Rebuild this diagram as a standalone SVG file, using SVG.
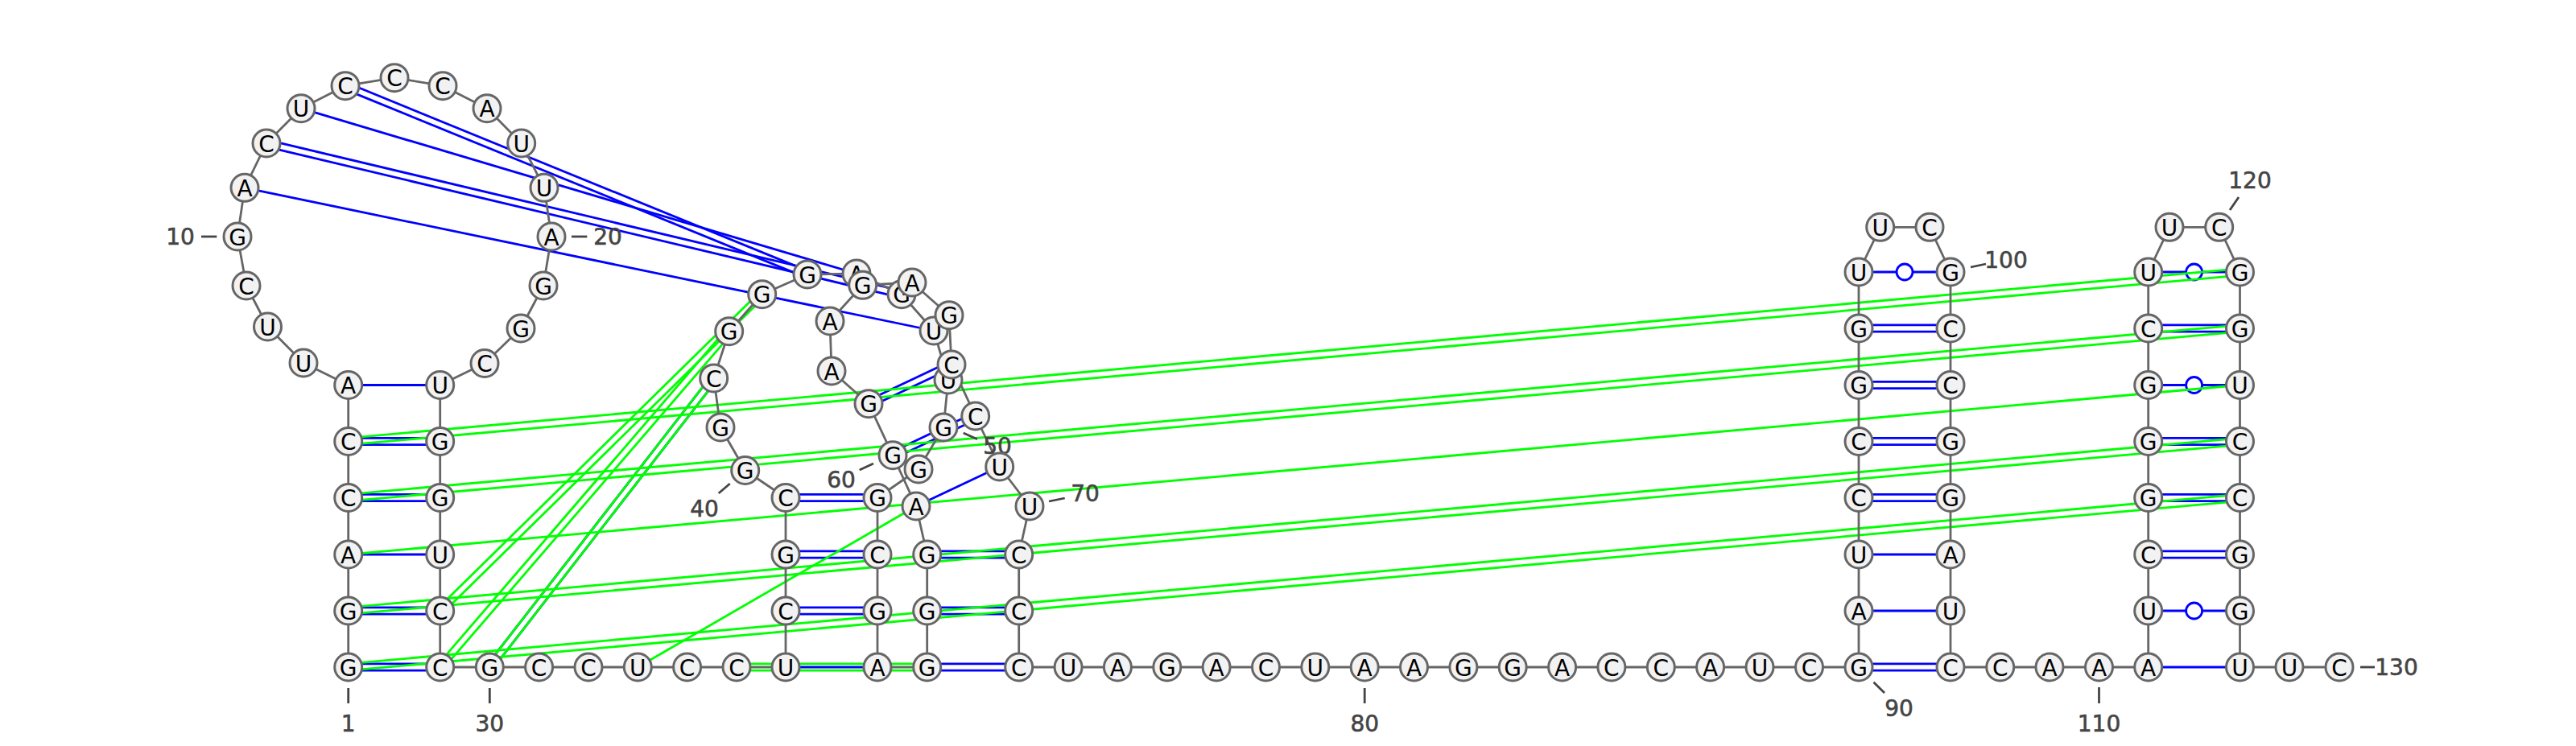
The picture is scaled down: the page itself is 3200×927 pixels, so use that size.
<svg xmlns="http://www.w3.org/2000/svg" width="3200" height="927" viewBox="0 0 3200 927">
<style>
text{font-family:"DejaVu Sans",sans-serif;text-anchor:middle}
.n circle{fill:#f2f2f2;stroke:#666;stroke-width:3}
.n text{font-size:28px;fill:#000}
.l line{stroke:#444;stroke-width:2.8}
.l text{font-size:28px;fill:#444;stroke:#444;stroke-width:.6}
.k line{stroke:#666;stroke-width:2.8}
.b line{stroke:#00f;stroke-width:2.8}
.b circle{fill:#fff;stroke:#00f;stroke-width:2.8}
.g line{stroke:#0f0;stroke-width:2.8}
</style>
<rect width="3200" height="927" fill="#fff"/>
<g id="connectors">
<g class="b">
<line x1="432.7" y1="824.8" x2="546.7" y2="824.8"/><line x1="432.7" y1="833.2" x2="546.7" y2="833.2"/>
<line x1="432.7" y1="754.8" x2="546.7" y2="754.8"/><line x1="432.7" y1="763.2" x2="546.7" y2="763.2"/>
<line x1="432.7" y1="689" x2="546.7" y2="689"/>
<line x1="432.7" y1="614.3" x2="546.7" y2="614.3"/><line x1="432.7" y1="622.7" x2="546.7" y2="622.7"/>
<line x1="432.7" y1="544.3" x2="546.7" y2="544.3"/><line x1="432.7" y1="552.7" x2="546.7" y2="552.7"/>
<line x1="432.7" y1="478.5" x2="546.7" y2="478.5"/>
<line x1="304" y1="233.3" x2="1160" y2="411"/>
<line x1="330" y1="182.1" x2="1119" y2="369.8"/><line x1="332" y1="173.9" x2="1121" y2="361.6"/>
<line x1="374" y1="134.7" x2="1064" y2="340"/>
<line x1="427.4" y1="110.6" x2="1001.4" y2="344.9"/><line x1="430.6" y1="102.8" x2="1004.6" y2="337.1"/>
<line x1="611.6" y1="831.6" x2="890" y2="472.6"/><line x1="605" y1="826.4" x2="883.4" y2="467.4"/>
<line x1="976" y1="829" x2="1090" y2="829"/>
<line x1="976" y1="754.8" x2="1090" y2="754.8"/><line x1="976" y1="763.2" x2="1090" y2="763.2"/>
<line x1="976" y1="684.8" x2="1090" y2="684.8"/><line x1="976" y1="693.2" x2="1090" y2="693.2"/>
<line x1="976" y1="614.3" x2="1090" y2="614.3"/><line x1="976" y1="622.7" x2="1090" y2="622.7"/>
<line x1="1151.7" y1="824.8" x2="1265.7" y2="824.8"/><line x1="1151.7" y1="833.2" x2="1265.7" y2="833.2"/>
<line x1="1151.7" y1="754.8" x2="1265.7" y2="754.8"/><line x1="1151.7" y1="763.2" x2="1265.7" y2="763.2"/>
<line x1="1151.7" y1="684.8" x2="1265.7" y2="684.8"/><line x1="1151.7" y1="693.2" x2="1265.7" y2="693.2"/>
<line x1="1138" y1="629" x2="1241.7" y2="580"/>
<line x1="1110.8" y1="569.5" x2="1213.5" y2="520.8"/><line x1="1107.2" y1="561.9" x2="1209.9" y2="513.2"/>
<line x1="1080.8" y1="505.5" x2="1183.8" y2="456.8"/><line x1="1077.2" y1="497.9" x2="1180.2" y2="449.2"/>
<line x1="2309" y1="824.8" x2="2423" y2="824.8"/><line x1="2309" y1="833.2" x2="2423" y2="833.2"/>
<line x1="2309" y1="759" x2="2423" y2="759"/>
<line x1="2309" y1="689" x2="2423" y2="689"/>
<line x1="2309" y1="614.3" x2="2423" y2="614.3"/><line x1="2309" y1="622.7" x2="2423" y2="622.7"/>
<line x1="2309" y1="544.3" x2="2423" y2="544.3"/><line x1="2309" y1="552.7" x2="2423" y2="552.7"/>
<line x1="2309" y1="474.3" x2="2423" y2="474.3"/><line x1="2309" y1="482.7" x2="2423" y2="482.7"/>
<line x1="2309" y1="403.8" x2="2423" y2="403.8"/><line x1="2309" y1="412.2" x2="2423" y2="412.2"/>
<line x1="2309" y1="338" x2="2423" y2="338"/><circle cx="2366" cy="338" r="10"/>
<line x1="2668.7" y1="829" x2="2782.5" y2="829"/>
<line x1="2668.7" y1="759" x2="2782.5" y2="759"/><circle cx="2725.6" cy="759" r="10"/>
<line x1="2668.7" y1="684.8" x2="2782.5" y2="684.8"/><line x1="2668.7" y1="693.2" x2="2782.5" y2="693.2"/>
<line x1="2668.7" y1="614.3" x2="2782.5" y2="614.3"/><line x1="2668.7" y1="622.7" x2="2782.5" y2="622.7"/>
<line x1="2668.7" y1="544.3" x2="2782.5" y2="544.3"/><line x1="2668.7" y1="552.7" x2="2782.5" y2="552.7"/>
<line x1="2668.7" y1="478.5" x2="2782.5" y2="478.5"/><circle cx="2725.6" cy="478.5" r="10"/>
<line x1="2668.7" y1="403.8" x2="2782.5" y2="403.8"/><line x1="2668.7" y1="412.2" x2="2782.5" y2="412.2"/>
<line x1="2668.7" y1="338" x2="2782.5" y2="338"/><circle cx="2725.6" cy="338" r="10"/>
</g>
<g class="g">
<line x1="433.1" y1="833.2" x2="2782.9" y2="622.7"/><line x1="432.3" y1="824.8" x2="2782.1" y2="614.3"/>
<line x1="433.1" y1="763.2" x2="2782.9" y2="552.7"/><line x1="432.3" y1="754.8" x2="2782.1" y2="544.3"/>
<line x1="432.7" y1="689" x2="2782.5" y2="478.5"/>
<line x1="433.1" y1="622.7" x2="2782.9" y2="412.2"/><line x1="432.3" y1="614.3" x2="2782.1" y2="403.8"/>
<line x1="433.1" y1="552.7" x2="2782.9" y2="342.2"/><line x1="432.3" y1="544.3" x2="2782.1" y2="333.8"/>
<line x1="549.6" y1="762" x2="949.6" y2="368.7"/><line x1="543.8" y1="756" x2="943.8" y2="362.7"/>
<line x1="549.9" y1="831.7" x2="908.9" y2="414.4"/><line x1="543.5" y1="826.3" x2="902.5" y2="409"/>
<line x1="611.6" y1="831.6" x2="890" y2="472.6"/><line x1="605" y1="826.4" x2="883.4" y2="467.4"/>
<line x1="792.3" y1="829" x2="1138" y2="629"/>
<line x1="915" y1="824.8" x2="1151.7" y2="824.8"/><line x1="915" y1="833.2" x2="1151.7" y2="833.2"/>
</g>
<g class="k">
<line x1="432.7" y1="829" x2="432.7" y2="759"/><line x1="432.7" y1="759" x2="432.7" y2="689"/><line x1="432.7" y1="689" x2="432.7" y2="618.5"/><line x1="432.7" y1="618.5" x2="432.7" y2="548.5"/><line x1="432.7" y1="548.5" x2="432.7" y2="478.5"/>
<line x1="432.7" y1="478.5" x2="377" y2="451"/><line x1="377" y1="451" x2="332.5" y2="406"/><line x1="332.5" y1="406" x2="306" y2="355"/><line x1="306" y1="355" x2="295" y2="294"/><line x1="295" y1="294" x2="304" y2="233.3"/><line x1="304" y1="233.3" x2="331" y2="178"/><line x1="331" y1="178" x2="374" y2="134.7"/><line x1="374" y1="134.7" x2="429" y2="106.7"/><line x1="429" y1="106.7" x2="490" y2="96.7"/><line x1="490" y1="96.7" x2="550" y2="106.7"/><line x1="550" y1="106.7" x2="605" y2="134.7"/><line x1="605" y1="134.7" x2="647.7" y2="178"/><line x1="647.7" y1="178" x2="676" y2="233.3"/><line x1="676" y1="233.3" x2="685" y2="294"/><line x1="685" y1="294" x2="675" y2="355"/><line x1="675" y1="355" x2="647" y2="408"/><line x1="647" y1="408" x2="602" y2="451.5"/><line x1="602" y1="451.5" x2="546.7" y2="478.5"/>
<line x1="546.7" y1="478.5" x2="546.7" y2="548.5"/><line x1="546.7" y1="548.5" x2="546.7" y2="618.5"/><line x1="546.7" y1="618.5" x2="546.7" y2="689"/><line x1="546.7" y1="689" x2="546.7" y2="759"/><line x1="546.7" y1="759" x2="546.7" y2="829"/>
<line x1="546.7" y1="829" x2="608.3" y2="829"/><line x1="608.3" y1="829" x2="669.6" y2="829"/><line x1="669.6" y1="829" x2="731" y2="829"/><line x1="731" y1="829" x2="792.3" y2="829"/><line x1="792.3" y1="829" x2="853.6" y2="829"/><line x1="853.6" y1="829" x2="915" y2="829"/><line x1="915" y1="829" x2="976" y2="829"/>
<line x1="976" y1="829" x2="976" y2="759"/><line x1="976" y1="759" x2="976" y2="689"/><line x1="976" y1="689" x2="976" y2="618.5"/><line x1="976" y1="618.5" x2="925.7" y2="584.5"/><line x1="925.7" y1="584.5" x2="895" y2="531"/><line x1="895" y1="531" x2="886.7" y2="470"/><line x1="886.7" y1="470" x2="905.7" y2="411.7"/><line x1="905.7" y1="411.7" x2="946.7" y2="365.7"/><line x1="946.7" y1="365.7" x2="1003" y2="341"/><line x1="1003" y1="341" x2="1064" y2="340"/><line x1="1064" y1="340" x2="1120" y2="365.7"/><line x1="1120" y1="365.7" x2="1160" y2="411"/><line x1="1160" y1="411" x2="1178" y2="472"/><line x1="1178" y1="472" x2="1172" y2="531"/><line x1="1172" y1="531" x2="1141" y2="583"/><line x1="1141" y1="583" x2="1090" y2="618.5"/>
<line x1="1090" y1="618.5" x2="1090" y2="689"/><line x1="1090" y1="689" x2="1090" y2="759"/><line x1="1090" y1="759" x2="1090" y2="829"/><line x1="1090" y1="829" x2="1151.7" y2="829"/>
<line x1="1151.7" y1="829" x2="1151.7" y2="759"/><line x1="1151.7" y1="759" x2="1151.7" y2="689"/><line x1="1151.7" y1="689" x2="1138" y2="629"/><line x1="1138" y1="629" x2="1109" y2="565.7"/><line x1="1109" y1="565.7" x2="1079" y2="501.7"/><line x1="1079" y1="501.7" x2="1033" y2="461"/><line x1="1033" y1="461" x2="1031" y2="399"/><line x1="1031" y1="399" x2="1071.7" y2="354.3"/><line x1="1071.7" y1="354.3" x2="1133" y2="351"/><line x1="1133" y1="351" x2="1179" y2="391.7"/><line x1="1179" y1="391.7" x2="1182" y2="453"/><line x1="1182" y1="453" x2="1211.7" y2="517"/><line x1="1211.7" y1="517" x2="1241.7" y2="580"/><line x1="1241.7" y1="580" x2="1279" y2="629"/><line x1="1279" y1="629" x2="1265.7" y2="689"/>
<line x1="1265.7" y1="689" x2="1265.7" y2="759"/><line x1="1265.7" y1="759" x2="1265.7" y2="829"/>
<line x1="1265.7" y1="829" x2="2309" y2="829"/>
<line x1="2309" y1="829" x2="2309" y2="338"/><line x1="2309" y1="338" x2="2335.7" y2="282.3"/><line x1="2335.7" y1="282.3" x2="2397" y2="282.3"/><line x1="2397" y1="282.3" x2="2423" y2="338"/><line x1="2423" y1="338" x2="2423" y2="829"/>
<line x1="2423" y1="829" x2="2668.7" y2="829"/>
<line x1="2668.7" y1="829" x2="2668.7" y2="338"/><line x1="2668.7" y1="338" x2="2695" y2="282.3"/><line x1="2695" y1="282.3" x2="2756.7" y2="282.3"/><line x1="2756.7" y1="282.3" x2="2782.5" y2="338"/><line x1="2782.5" y1="338" x2="2782.5" y2="829"/>
<line x1="2782.5" y1="829" x2="2906" y2="829"/>
</g>
</g>
<g id="labels" class="l">
<line x1="432.7" y1="855" x2="432.7" y2="874"/><text x="432.7" y="909">1</text>
<line x1="250" y1="294" x2="269.3" y2="294"/><text x="224" y="304">10</text>
<line x1="710" y1="294" x2="729.3" y2="294"/><text x="755" y="304">20</text>
<line x1="608.3" y1="855" x2="608.3" y2="874"/><text x="608.3" y="909">30</text>
<line x1="892.7" y1="613" x2="906.7" y2="601"/><text x="875" y="642">40</text>
<line x1="1196.7" y1="538" x2="1214" y2="545.7"/><text x="1239" y="564">50</text>
<line x1="1067.7" y1="584" x2="1085" y2="576"/><text x="1045" y="606">60</text>
<line x1="1303" y1="623" x2="1322.7" y2="619"/><text x="1348" y="623">70</text>
<line x1="1695.2" y1="855" x2="1695.2" y2="874"/><text x="1695.2" y="909">80</text>
<line x1="2327.5" y1="847.7" x2="2341" y2="861"/><text x="2359" y="890">90</text>
<line x1="2448" y1="332" x2="2467" y2="328"/><text x="2492" y="333">100</text>
<line x1="2607.5" y1="854" x2="2607.5" y2="874"/><text x="2607.5" y="909">110</text>
<line x1="2770" y1="261" x2="2781" y2="245"/><text x="2795" y="234">120</text>
<line x1="2932" y1="829" x2="2950" y2="829"/><text x="2977" y="839">130</text>
</g>
<g id="nodes" class="nodes">
<g id="n1" class="n" transform="translate(432.7,829)"><circle r="17"/><text y="10.5">G</text></g>
<g id="n2" class="n" transform="translate(432.7,759)"><circle r="17"/><text y="10.5">G</text></g>
<g id="n3" class="n" transform="translate(432.7,689)"><circle r="17"/><text y="10.5">A</text></g>
<g id="n4" class="n" transform="translate(432.7,618.5)"><circle r="17"/><text y="10.5">C</text></g>
<g id="n5" class="n" transform="translate(432.7,548.5)"><circle r="17"/><text y="10.5">C</text></g>
<g id="n6" class="n" transform="translate(432.7,478.5)"><circle r="17"/><text y="10.5">A</text></g>
<g id="n7" class="n" transform="translate(377,451)"><circle r="17"/><text y="10.5">U</text></g>
<g id="n8" class="n" transform="translate(332.5,406)"><circle r="17"/><text y="10.5">U</text></g>
<g id="n9" class="n" transform="translate(306,355)"><circle r="17"/><text y="10.5">C</text></g>
<g id="n10" class="n" transform="translate(295,294)"><circle r="17"/><text y="10.5">G</text></g>
<g id="n11" class="n" transform="translate(304,233.3)"><circle r="17"/><text y="10.5">A</text></g>
<g id="n12" class="n" transform="translate(331,178)"><circle r="17"/><text y="10.5">C</text></g>
<g id="n13" class="n" transform="translate(374,134.7)"><circle r="17"/><text y="10.5">U</text></g>
<g id="n14" class="n" transform="translate(429,106.7)"><circle r="17"/><text y="10.5">C</text></g>
<g id="n15" class="n" transform="translate(490,96.7)"><circle r="17"/><text y="10.5">C</text></g>
<g id="n16" class="n" transform="translate(550,106.7)"><circle r="17"/><text y="10.5">C</text></g>
<g id="n17" class="n" transform="translate(605,134.7)"><circle r="17"/><text y="10.5">A</text></g>
<g id="n18" class="n" transform="translate(647.7,178)"><circle r="17"/><text y="10.5">U</text></g>
<g id="n19" class="n" transform="translate(676,233.3)"><circle r="17"/><text y="10.5">U</text></g>
<g id="n20" class="n" transform="translate(685,294)"><circle r="17"/><text y="10.5">A</text></g>
<g id="n21" class="n" transform="translate(675,355)"><circle r="17"/><text y="10.5">G</text></g>
<g id="n22" class="n" transform="translate(647,408)"><circle r="17"/><text y="10.5">G</text></g>
<g id="n23" class="n" transform="translate(602,451.5)"><circle r="17"/><text y="10.5">C</text></g>
<g id="n24" class="n" transform="translate(546.7,478.5)"><circle r="17"/><text y="10.5">U</text></g>
<g id="n25" class="n" transform="translate(546.7,548.5)"><circle r="17"/><text y="10.5">G</text></g>
<g id="n26" class="n" transform="translate(546.7,618.5)"><circle r="17"/><text y="10.5">G</text></g>
<g id="n27" class="n" transform="translate(546.7,689)"><circle r="17"/><text y="10.5">U</text></g>
<g id="n28" class="n" transform="translate(546.7,759)"><circle r="17"/><text y="10.5">C</text></g>
<g id="n29" class="n" transform="translate(546.7,829)"><circle r="17"/><text y="10.5">C</text></g>
<g id="n30" class="n" transform="translate(608.3,829)"><circle r="17"/><text y="10.5">G</text></g>
<g id="n31" class="n" transform="translate(669.6,829)"><circle r="17"/><text y="10.5">C</text></g>
<g id="n32" class="n" transform="translate(731,829)"><circle r="17"/><text y="10.5">C</text></g>
<g id="n33" class="n" transform="translate(792.3,829)"><circle r="17"/><text y="10.5">U</text></g>
<g id="n34" class="n" transform="translate(853.6,829)"><circle r="17"/><text y="10.5">C</text></g>
<g id="n35" class="n" transform="translate(915,829)"><circle r="17"/><text y="10.5">C</text></g>
<g id="n36" class="n" transform="translate(976,829)"><circle r="17"/><text y="10.5">U</text></g>
<g id="n37" class="n" transform="translate(976,759)"><circle r="17"/><text y="10.5">C</text></g>
<g id="n38" class="n" transform="translate(976,689)"><circle r="17"/><text y="10.5">G</text></g>
<g id="n39" class="n" transform="translate(976,618.5)"><circle r="17"/><text y="10.5">C</text></g>
<g id="n40" class="n" transform="translate(925.7,584.5)"><circle r="17"/><text y="10.5">G</text></g>
<g id="n41" class="n" transform="translate(895,531)"><circle r="17"/><text y="10.5">G</text></g>
<g id="n42" class="n" transform="translate(886.7,470)"><circle r="17"/><text y="10.5">C</text></g>
<g id="n43" class="n" transform="translate(905.7,411.7)"><circle r="17"/><text y="10.5">G</text></g>
<g id="n44" class="n" transform="translate(946.7,365.7)"><circle r="17"/><text y="10.5">G</text></g>
<g id="n45" class="n" transform="translate(1003,341)"><circle r="17"/><text y="10.5">G</text></g>
<g id="n46" class="n" transform="translate(1064,340)"><circle r="17"/><text y="10.5">A</text></g>
<g id="n47" class="n" transform="translate(1120,365.7)"><circle r="17"/><text y="10.5">G</text></g>
<g id="n48" class="n" transform="translate(1160,411)"><circle r="17"/><text y="10.5">U</text></g>
<g id="n49" class="n" transform="translate(1178,472)"><circle r="17"/><text y="10.5">U</text></g>
<g id="n50" class="n" transform="translate(1172,531)"><circle r="17"/><text y="10.5">G</text></g>
<g id="n51" class="n" transform="translate(1141,583)"><circle r="17"/><text y="10.5">G</text></g>
<g id="n52" class="n" transform="translate(1090,618.5)"><circle r="17"/><text y="10.5">G</text></g>
<g id="n53" class="n" transform="translate(1090,689)"><circle r="17"/><text y="10.5">C</text></g>
<g id="n54" class="n" transform="translate(1090,759)"><circle r="17"/><text y="10.5">G</text></g>
<g id="n55" class="n" transform="translate(1090,829)"><circle r="17"/><text y="10.5">A</text></g>
<g id="n56" class="n" transform="translate(1151.7,829)"><circle r="17"/><text y="10.5">G</text></g>
<g id="n57" class="n" transform="translate(1151.7,759)"><circle r="17"/><text y="10.5">G</text></g>
<g id="n58" class="n" transform="translate(1151.7,689)"><circle r="17"/><text y="10.5">G</text></g>
<g id="n59" class="n" transform="translate(1138,629)"><circle r="17"/><text y="10.5">A</text></g>
<g id="n60" class="n" transform="translate(1109,565.7)"><circle r="17"/><text y="10.5">G</text></g>
<g id="n61" class="n" transform="translate(1079,501.7)"><circle r="17"/><text y="10.5">G</text></g>
<g id="n62" class="n" transform="translate(1033,461)"><circle r="17"/><text y="10.5">A</text></g>
<g id="n63" class="n" transform="translate(1031,399)"><circle r="17"/><text y="10.5">A</text></g>
<g id="n64" class="n" transform="translate(1071.7,354.3)"><circle r="17"/><text y="10.5">G</text></g>
<g id="n65" class="n" transform="translate(1133,351)"><circle r="17"/><text y="10.5">A</text></g>
<g id="n66" class="n" transform="translate(1179,391.7)"><circle r="17"/><text y="10.5">G</text></g>
<g id="n67" class="n" transform="translate(1182,453)"><circle r="17"/><text y="10.5">C</text></g>
<g id="n68" class="n" transform="translate(1211.7,517)"><circle r="17"/><text y="10.5">C</text></g>
<g id="n69" class="n" transform="translate(1241.7,580)"><circle r="17"/><text y="10.5">U</text></g>
<g id="n70" class="n" transform="translate(1279,629)"><circle r="17"/><text y="10.5">U</text></g>
<g id="n71" class="n" transform="translate(1265.7,689)"><circle r="17"/><text y="10.5">C</text></g>
<g id="n72" class="n" transform="translate(1265.7,759)"><circle r="17"/><text y="10.5">C</text></g>
<g id="n73" class="n" transform="translate(1265.7,829)"><circle r="17"/><text y="10.5">C</text></g>
<g id="n74" class="n" transform="translate(1327.1,829)"><circle r="17"/><text y="10.5">U</text></g>
<g id="n75" class="n" transform="translate(1388.4,829)"><circle r="17"/><text y="10.5">A</text></g>
<g id="n76" class="n" transform="translate(1449.8,829)"><circle r="17"/><text y="10.5">G</text></g>
<g id="n77" class="n" transform="translate(1511.1,829)"><circle r="17"/><text y="10.5">A</text></g>
<g id="n78" class="n" transform="translate(1572.5,829)"><circle r="17"/><text y="10.5">C</text></g>
<g id="n79" class="n" transform="translate(1633.8,829)"><circle r="17"/><text y="10.5">U</text></g>
<g id="n80" class="n" transform="translate(1695.2,829)"><circle r="17"/><text y="10.5">A</text></g>
<g id="n81" class="n" transform="translate(1756.5,829)"><circle r="17"/><text y="10.5">A</text></g>
<g id="n82" class="n" transform="translate(1817.9,829)"><circle r="17"/><text y="10.5">G</text></g>
<g id="n83" class="n" transform="translate(1879.2,829)"><circle r="17"/><text y="10.5">G</text></g>
<g id="n84" class="n" transform="translate(1940.6,829)"><circle r="17"/><text y="10.5">A</text></g>
<g id="n85" class="n" transform="translate(2001.9,829)"><circle r="17"/><text y="10.5">C</text></g>
<g id="n86" class="n" transform="translate(2063.3,829)"><circle r="17"/><text y="10.5">C</text></g>
<g id="n87" class="n" transform="translate(2124.6,829)"><circle r="17"/><text y="10.5">A</text></g>
<g id="n88" class="n" transform="translate(2186,829)"><circle r="17"/><text y="10.5">U</text></g>
<g id="n89" class="n" transform="translate(2247.5,829)"><circle r="17"/><text y="10.5">C</text></g>
<g id="n90" class="n" transform="translate(2309,829)"><circle r="17"/><text y="10.5">G</text></g>
<g id="n91" class="n" transform="translate(2309,759)"><circle r="17"/><text y="10.5">A</text></g>
<g id="n92" class="n" transform="translate(2309,689)"><circle r="17"/><text y="10.5">U</text></g>
<g id="n93" class="n" transform="translate(2309,618.5)"><circle r="17"/><text y="10.5">C</text></g>
<g id="n94" class="n" transform="translate(2309,548.5)"><circle r="17"/><text y="10.5">C</text></g>
<g id="n95" class="n" transform="translate(2309,478.5)"><circle r="17"/><text y="10.5">G</text></g>
<g id="n96" class="n" transform="translate(2309,408)"><circle r="17"/><text y="10.5">G</text></g>
<g id="n97" class="n" transform="translate(2309,338)"><circle r="17"/><text y="10.5">U</text></g>
<g id="n98" class="n" transform="translate(2335.7,282.3)"><circle r="17"/><text y="10.5">U</text></g>
<g id="n99" class="n" transform="translate(2397,282.3)"><circle r="17"/><text y="10.5">C</text></g>
<g id="n100" class="n" transform="translate(2423,338)"><circle r="17"/><text y="10.5">G</text></g>
<g id="n101" class="n" transform="translate(2423,408)"><circle r="17"/><text y="10.5">C</text></g>
<g id="n102" class="n" transform="translate(2423,478.5)"><circle r="17"/><text y="10.5">C</text></g>
<g id="n103" class="n" transform="translate(2423,548.5)"><circle r="17"/><text y="10.5">G</text></g>
<g id="n104" class="n" transform="translate(2423,618.5)"><circle r="17"/><text y="10.5">G</text></g>
<g id="n105" class="n" transform="translate(2423,689)"><circle r="17"/><text y="10.5">A</text></g>
<g id="n106" class="n" transform="translate(2423,759)"><circle r="17"/><text y="10.5">U</text></g>
<g id="n107" class="n" transform="translate(2423,829)"><circle r="17"/><text y="10.5">C</text></g>
<g id="n108" class="n" transform="translate(2484.7,829)"><circle r="17"/><text y="10.5">C</text></g>
<g id="n109" class="n" transform="translate(2546,829)"><circle r="17"/><text y="10.5">A</text></g>
<g id="n110" class="n" transform="translate(2607.5,829)"><circle r="17"/><text y="10.5">A</text></g>
<g id="n111" class="n" transform="translate(2668.7,829)"><circle r="17"/><text y="10.5">A</text></g>
<g id="n112" class="n" transform="translate(2668.7,759)"><circle r="17"/><text y="10.5">U</text></g>
<g id="n113" class="n" transform="translate(2668.7,689)"><circle r="17"/><text y="10.5">C</text></g>
<g id="n114" class="n" transform="translate(2668.7,618.5)"><circle r="17"/><text y="10.5">G</text></g>
<g id="n115" class="n" transform="translate(2668.7,548.5)"><circle r="17"/><text y="10.5">G</text></g>
<g id="n116" class="n" transform="translate(2668.7,478.5)"><circle r="17"/><text y="10.5">G</text></g>
<g id="n117" class="n" transform="translate(2668.7,408)"><circle r="17"/><text y="10.5">C</text></g>
<g id="n118" class="n" transform="translate(2668.7,338)"><circle r="17"/><text y="10.5">U</text></g>
<g id="n119" class="n" transform="translate(2695,282.3)"><circle r="17"/><text y="10.5">U</text></g>
<g id="n120" class="n" transform="translate(2756.7,282.3)"><circle r="17"/><text y="10.5">C</text></g>
<g id="n121" class="n" transform="translate(2782.5,338)"><circle r="17"/><text y="10.5">G</text></g>
<g id="n122" class="n" transform="translate(2782.5,408)"><circle r="17"/><text y="10.5">G</text></g>
<g id="n123" class="n" transform="translate(2782.5,478.5)"><circle r="17"/><text y="10.5">U</text></g>
<g id="n124" class="n" transform="translate(2782.5,548.5)"><circle r="17"/><text y="10.5">C</text></g>
<g id="n125" class="n" transform="translate(2782.5,618.5)"><circle r="17"/><text y="10.5">C</text></g>
<g id="n126" class="n" transform="translate(2782.5,689)"><circle r="17"/><text y="10.5">G</text></g>
<g id="n127" class="n" transform="translate(2782.5,759)"><circle r="17"/><text y="10.5">G</text></g>
<g id="n128" class="n" transform="translate(2782.5,829)"><circle r="17"/><text y="10.5">U</text></g>
<g id="n129" class="n" transform="translate(2844,829)"><circle r="17"/><text y="10.5">U</text></g>
<g id="n130" class="n" transform="translate(2906,829)"><circle r="17"/><text y="10.5">C</text></g>
</g>
</svg>
